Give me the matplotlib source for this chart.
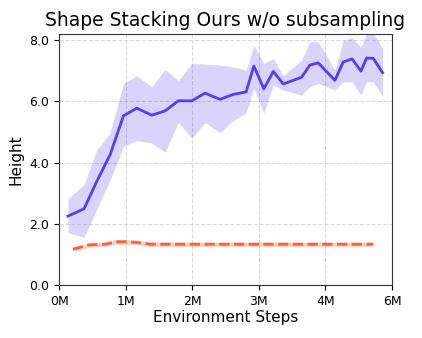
import matplotlib
matplotlib.use('Agg')
import matplotlib.pyplot as plt
import numpy as np

# environment steps (millions) and heights
ours_steps = [0.16, 0.45, 0.68, 0.92, 1.16, 1.40, 1.67, 1.91, 2.15, 2.39, 2.63, 2.90,
              3.14, 3.37, 3.51, 3.69, 3.86, 4.04, 4.37, 4.52, 4.67, 4.97, 5.12, 5.28,
              5.44, 5.54, 5.66, 5.83]
ours_mean = [2.25, 2.49, 3.39, 4.26, 5.53, 5.78, 5.55, 5.69, 6.02, 6.02, 6.27, 6.07,
             6.23, 6.31, 7.16, 6.41, 6.98, 6.57, 6.79, 7.19, 7.26, 6.69, 7.29, 7.39,
             6.99, 7.42, 7.41, 6.94]
ours_upper = [2.82, 3.28, 4.42, 4.97, 6.59, 6.84, 6.48, 7.05, 6.68, 7.24, 7.22, 7.19,
              7.13, 7.02, 7.84, 7.24, 7.40, 6.84, 7.35, 7.95, 7.95, 7.02, 8.00, 8.09,
              7.78, 8.22, 8.27, 7.73]
ours_lower = [1.71, 1.55, 2.48, 3.42, 4.53, 4.72, 4.64, 4.34, 5.31, 4.80, 5.31, 4.97,
              5.38, 5.62, 6.43, 5.62, 6.54, 6.37, 6.21, 6.48, 6.59, 6.37, 6.64, 6.64,
              6.21, 6.64, 6.64, 6.16]

base_steps = [0.25, 0.55, 0.83, 1.02, 1.20, 1.40, 1.65, 2.0, 2.5, 3.0, 3.5, 4.0,
              4.5, 5.0, 5.66]
base_mean = [1.17, 1.31, 1.33, 1.41, 1.41, 1.39, 1.33, 1.33, 1.33, 1.33, 1.33, 1.33,
             1.33, 1.33, 1.33]
base_std = [0.08] * len(base_steps)

# ticks every 1.2M, labels truncated to whole millions as in the original
xticks = [0, 1.2, 2.4, 3.6, 4.8, 6.0]
xticklabels = ['0M', '1M', '2M', '3M', '4M', '6M']
yticks = [0, 2, 4, 6, 8]
yticklabels = ['0.0', '2.0', '4.0', '6.0', '8.0']

fig = plt.figure(figsize=(4.22, 3.38), dpi=100)
ax = fig.add_axes([0.14, 0.157, 0.789, 0.742])

blue = '#5a3af5'
orange = '#ff5e3a'

ax.fill_between(ours_steps, ours_lower, ours_upper, color=blue, alpha=0.22, linewidth=0)
ax.plot(ours_steps, ours_mean, color=blue, linewidth=2)

bm = np.array(base_mean)
bs = np.array(base_std)
ax.fill_between(base_steps, bm - bs, bm + bs, color=orange, alpha=0.25, linewidth=0)
ax.plot(base_steps, base_mean, color=orange, linewidth=2, linestyle='--')

ax.set_xlim(0, 6)
ax.set_ylim(0, 8.2)
ax.set_xticks(xticks)
ax.set_xticklabels(xticklabels, fontsize=9)
ax.set_yticks(yticks)
ax.set_yticklabels(yticklabels, fontsize=9)
ax.grid(True, linestyle='--', color='#d8d8d8', linewidth=0.8)
ax.set_axisbelow(True)
for s in ax.spines.values():
    s.set_color('#333333')

ax.set_xlabel('Environment Steps', fontsize=11, labelpad=2)
ax.set_ylabel('Height', fontsize=11)
ax.set_title('Shape Stacking Ours w/o subsampling', fontsize=13.5, pad=6)

plt.savefig('out.png', dpi=100)
